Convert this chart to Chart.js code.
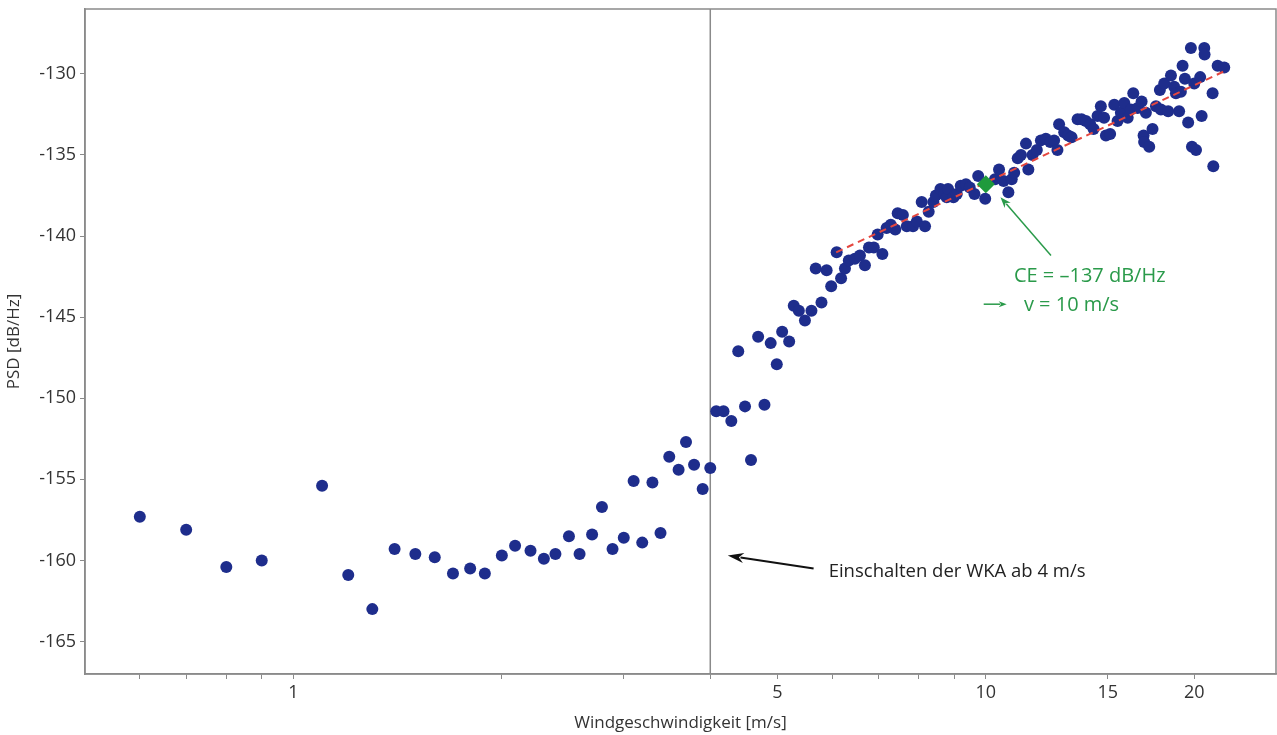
<!DOCTYPE html>
<html>
<head>
  <meta charset="utf-8" />
  <title>PSD über Windgeschwindigkeit</title>
  <script src="https://cdn.jsdelivr.net/npm/chart.js"></script>
  <style>
    body { margin: 0; background: #fff; }
  </style>
</head>
<body>
  <canvas id="psdChart" width="1277" height="735"></canvas>

  <script>
    // Messpunkte: Windgeschwindigkeit [m/s] und PSD [dB/Hz]
    const windSpeed = [
      0.60, 0.70, 0.80, 0.90, 1.10, 1.20, 1.30, 1.40, 1.50, 1.60,
      1.70, 1.80, 1.89, 2.00, 2.09, 2.20, 2.30, 2.39, 2.50, 2.59,
      2.70, 2.79, 2.89, 3.00, 3.10, 3.19, 3.30, 3.39, 3.49, 3.60,
      3.69, 3.79, 3.90, 4.00, 4.08, 4.18, 4.29, 4.39, 4.49, 4.58,
      4.69, 4.79, 4.89, 4.99, 5.08, 5.20, 5.28, 5.37, 5.48, 5.60,
      5.68, 5.79, 5.89, 5.98, 6.09, 6.18, 6.26, 6.34, 6.47, 6.58,
      6.69, 6.78, 6.89, 6.98, 7.09, 7.19, 7.29, 7.40, 7.46, 7.59,
      7.69, 7.85, 7.95, 8.08, 8.17, 8.27, 8.40, 8.47, 8.60, 8.71,
      8.78, 8.82, 8.98, 9.08, 9.20, 9.36, 9.48, 9.63, 9.75, 9.98,
      10.31, 10.45, 10.61, 10.78, 10.90, 10.99, 11.12, 11.24, 11.43, 11.52,
      11.68, 11.85, 12.01, 12.21, 12.39, 12.55, 12.69, 12.76, 12.98, 13.15,
      13.30, 13.57, 13.75, 13.95, 14.15, 14.31, 14.50, 14.66, 14.82, 14.91,
      15.12, 15.33, 15.50, 15.67, 15.85, 16.03, 16.20, 16.33, 16.57, 16.79,
      16.90, 16.93, 17.03, 17.22, 17.41, 17.61, 17.84, 17.90, 18.10, 18.34,
      18.51, 18.71, 18.82, 19.02, 19.13, 19.24, 19.39, 19.60, 19.78, 19.85,
      20.00, 20.12, 20.40, 20.50, 20.68, 20.70, 21.26, 21.31, 21.62, 22.10
    ];
    const psd = [
      -157.3, -158.1, -160.4, -160.0, -155.4, -160.9, -163.0, -159.3, -159.6, -159.8,
      -160.8, -160.5, -160.8, -159.7, -159.1, -159.4, -159.9, -159.6, -158.5, -159.6,
      -158.4, -156.7, -159.3, -158.6, -155.1, -158.9, -155.2, -158.3, -153.6, -154.4,
      -152.7, -154.1, -155.6, -154.3, -150.8, -150.8, -151.4, -147.1, -150.5, -153.8,
      -146.2, -150.4, -146.6, -147.9, -145.9, -146.5, -144.3, -144.6, -145.2, -144.6,
      -142.0, -144.1, -142.1, -143.1, -141.0, -142.6, -142.0, -141.5, -141.4, -141.2,
      -141.8, -140.7, -140.7, -139.9, -141.1, -139.5, -139.3, -139.6, -138.6, -138.7,
      -139.4, -139.4, -139.1, -137.9, -139.4, -138.5, -137.9, -137.5, -137.1, -137.4,
      -137.6, -137.1, -137.6, -137.4, -136.9, -136.8, -137.0, -137.4, -136.3, -137.7,
      -136.5, -135.9, -136.6, -137.3, -136.5, -136.1, -135.2, -135.0, -134.3, -135.9,
      -135.0, -134.7, -134.1, -134.0, -134.2, -134.1, -134.7, -133.1, -133.6, -133.8,
      -133.9, -132.8, -132.8, -132.9, -133.1, -133.4, -132.6, -132.0, -132.7, -133.8,
      -133.7, -131.9, -132.9, -132.4, -131.8, -132.7, -132.2, -131.2, -132.1, -131.7,
      -133.8, -134.2, -132.4, -134.5, -133.4, -132.0, -131.0, -132.2, -130.6, -132.3,
      -130.1, -130.8, -131.2, -132.3, -131.1, -129.5, -130.3, -133.0, -128.4, -134.5,
      -130.6, -134.7, -130.2, -132.6, -128.4, -128.8, -131.2, -135.7, -129.5, -129.6
    ];

    // Ausgleichsgerade (rot gestrichelt)
    const fitSpeed = [6.08, 22.2];
    const fitPsd = [-141.0, -129.8];

    // CE-Punkt bei 10 m/s
    const ceSpeed = [10];
    const cePsd = [-136.8];

    // Einschaltgrenze der WKA
    const cutInSpeed = 4;

    // Achsen
    const xMin = 0.5, xMax = 26.25;
    const yMin = -167, yMax = -126;
    const xTickValues = [0.6, 0.7, 0.8, 0.9, 1, 2, 3, 4, 5, 6, 7, 8, 9, 10, 15, 20];
    const xTickLabels = [1, 5, 10, 15, 20];
    const yTickValues = [-165, -160, -155, -150, -145, -140, -135, -130];

    // Annotationen (in Datenkoordinaten)
    const cutInArrow = { from: [5.64, -160.5], to: [4.24, -159.7] };
    const cutInText = { at: [5.93, -160.7], text: 'Einschalten der WKA ab 4 m/s' };
    const ceArrow = { from: [12.42, -141.2], to: [10.5, -137.6] };
    const ceText1 = { at: [10.98, -142.5], text: 'CE = –137 dB/Hz' };
    const ceText2 = { at: [11.35, -144.25], text: 'v = 10 m/s' };
    const smallArrow = { from: [9.93, -144.2], to: [10.72, -144.2] };

    const FONT = "'Open Sans', sans-serif";
    const GREEN = '#2a9a4a';
    const FRAME = '#8a8a8a';

    function toXY(scales, p) {
      return [scales.x.getPixelForValue(p[0]), scales.y.getPixelForValue(p[1])];
    }

    function drawArrow(ctx, a, b, color, width, headLen, headWidth) {
      const ang = Math.atan2(b[1] - a[1], b[0] - a[0]);
      ctx.save();
      ctx.strokeStyle = color;
      ctx.fillStyle = color;
      ctx.lineWidth = width;
      ctx.beginPath();
      ctx.moveTo(a[0], a[1]);
      ctx.lineTo(b[0] - Math.cos(ang) * headLen * 0.8, b[1] - Math.sin(ang) * headLen * 0.8);
      ctx.stroke();
      ctx.translate(b[0], b[1]);
      ctx.rotate(ang);
      ctx.beginPath();
      ctx.moveTo(0, 0);
      ctx.lineTo(-headLen, -headWidth);
      ctx.lineTo(-headLen * 0.7, 0);
      ctx.lineTo(-headLen, headWidth);
      ctx.closePath();
      ctx.fill();
      ctx.restore();
    }

    // Rahmen + Pfeile + Texte
    const annotationPlugin = {
      id: 'annotations',
      afterDatasetsDraw(chart) {
        const ctx = chart.ctx;
        const s = chart.scales;
        const area = chart.chartArea;

        ctx.save();
        ctx.strokeStyle = FRAME;
        ctx.lineWidth = 1.5;
        ctx.strokeRect(area.left, area.top, area.right - area.left, area.bottom - area.top);

        drawArrow(ctx, toXY(s, cutInArrow.from), toXY(s, cutInArrow.to), '#111', 2, 16, 5);
        drawArrow(ctx, toXY(s, ceArrow.from), toXY(s, ceArrow.to), GREEN, 1.5, 11, 4);
        drawArrow(ctx, toXY(s, smallArrow.from), toXY(s, smallArrow.to), GREEN, 1.5, 8, 3);

        ctx.textBaseline = 'middle';
        ctx.textAlign = 'left';
        ctx.font = '18.5px ' + FONT;
        ctx.fillStyle = '#222';
        let p = toXY(s, cutInText.at);
        ctx.fillText(cutInText.text, p[0], p[1]);

        ctx.font = '20px ' + FONT;
        ctx.fillStyle = GREEN;
        p = toXY(s, ceText1.at);
        ctx.fillText(ceText1.text, p[0], p[1]);
        p = toXY(s, ceText2.at);
        ctx.fillText(ceText2.text, p[0], p[1]);
        ctx.restore();
      }
    };

    const points = windSpeed.map((v, i) => ({ x: v, y: psd[i] }));

    const ctx = document.getElementById('psdChart').getContext('2d');
    new Chart(ctx, {
      type: 'scatter',
      data: {
        datasets: [
          {
            label: 'CE',
            data: ceSpeed.map((v, i) => ({ x: v, y: cePsd[i] })),
            pointStyle: 'rectRot',
            pointRadius: 9,
            backgroundColor: '#1f9a3c',
            borderWidth: 0,
            order: 0
          },
          {
            label: 'Fit',
            data: fitSpeed.map((v, i) => ({ x: v, y: fitPsd[i] })),
            showLine: true,
            borderColor: '#e5473f',
            borderWidth: 2,
            borderDash: [7, 5],
            pointRadius: 0,
            order: 1
          },
          {
            label: 'PSD',
            data: points,
            pointRadius: 6,
            backgroundColor: '#1e2d8c',
            borderWidth: 0,
            order: 2
          },
          {
            label: 'Einschalten',
            data: [{ x: cutInSpeed, y: yMin }, { x: cutInSpeed, y: yMax }],
            showLine: true,
            borderColor: FRAME,
            borderWidth: 1.5,
            pointRadius: 0,
            order: 3
          }
        ]
      },
      options: {
        responsive: false,
        animation: false,
        layout: { autoPadding: false, padding: { top: 9, right: 1, left: 0, bottom: 2 } },
        plugins: {
          legend: { display: false },
          tooltip: { enabled: false }
        },
        scales: {
          x: {
            type: 'logarithmic',
            min: xMin,
            max: xMax,
            afterBuildTicks: (scale) => {
              scale.ticks = xTickValues.map(v => ({ value: v }));
            },
            afterFit: (scale) => {
              scale.height = 59;
              scale.paddingLeft = 0;
              scale.paddingRight = 0;
            },
            grid: { drawOnChartArea: false, drawTicks: true, tickLength: 5, color: FRAME },
            border: { display: true, color: FRAME, width: 1.5 },
            ticks: {
              autoSkip: false,
              maxRotation: 0,
              padding: 3,
              color: '#333',
              font: { family: FONT, size: 18 },
              callback: (value) => xTickLabels.includes(value) ? String(value) : ''
            },
            title: {
              display: true,
              text: 'Windgeschwindigkeit [m/s]',
              color: '#333',
              font: { family: FONT, size: 17 },
              padding: { top: 0, bottom: 0 }
            }
          },
          y: {
            type: 'linear',
            min: yMin,
            max: yMax,
            afterBuildTicks: (scale) => {
              scale.ticks = yTickValues.map(v => ({ value: v }));
            },
            afterFit: (scale) => {
              scale.width = 85;
              scale.paddingTop = 0;
              scale.paddingBottom = 0;
            },
            grid: { drawOnChartArea: false, drawTicks: true, tickLength: 5, color: FRAME },
            border: { display: true, color: FRAME, width: 1.5 },
            ticks: {
              padding: 4,
              color: '#333',
              font: { family: FONT, size: 18 }
            },
            title: {
              display: true,
              text: 'PSD [dB/Hz]',
              color: '#333',
              font: { family: FONT, size: 17 },
              padding: { top: 4, bottom: 0 }
            }
          }
        }
      },
      plugins: [annotationPlugin]
    });
  </script>
</body>
</html>
